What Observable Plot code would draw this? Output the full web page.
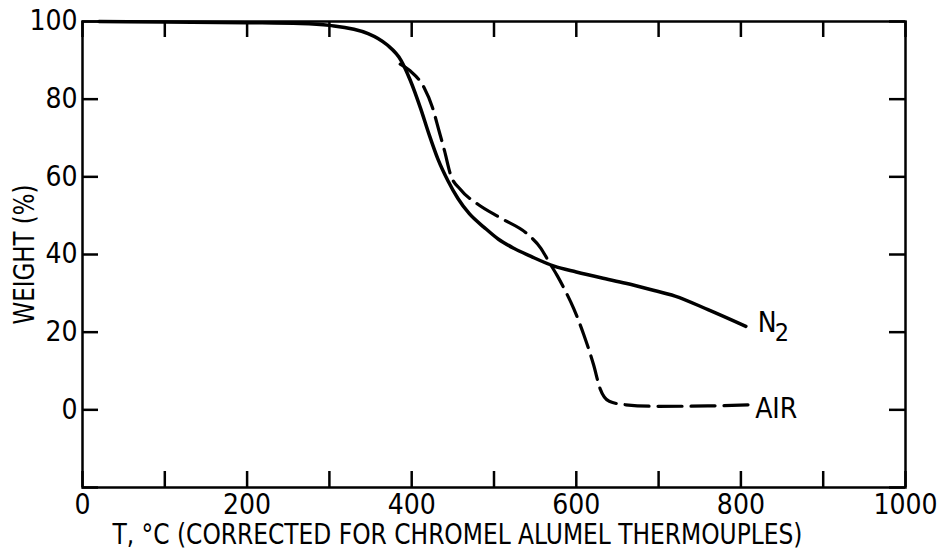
<!DOCTYPE html>
<html>
<head>
<meta charset="utf-8">
<script src="https://cdn.jsdelivr.net/npm/d3@7"></script>
<script src="https://cdn.jsdelivr.net/npm/@observablehq/plot@0.6"></script>
<style>
  html, body { margin: 0; padding: 0; background: #fff; }
  #chart { width: 938px; height: 552px; }
</style>
</head>
<body>
<div id="chart"></div>
<script>
// ---- data ----
const n2Temp   = [20, 100, 200, 265, 300, 347, 370, 387, 398, 411, 421, 432, 444, 456, 470, 488, 505, 524, 545, 573, 600, 630, 660, 690, 720, 760, 806];
const n2Weight = [100, 99.9, 99.7, 99.5, 99, 96.9, 94, 90, 85, 77.5, 71, 64.5, 59, 54.5, 50.5, 47, 44, 41.6, 39.5, 37, 35.5, 34, 32.6, 31, 29.3, 25.8, 21.5];

const airTemp   = [386, 398, 415, 425, 433, 440, 447, 459, 480, 508, 541, 557, 567, 577, 587, 597, 609, 621, 629, 640, 660, 700, 760, 810];
const airWeight = [89, 87.3, 83, 78, 72, 66.6, 60.7, 56.8, 53, 49.4, 45.2, 41.6, 38, 34.5, 30.5, 26, 19.4, 11.6, 5.4, 2.2, 1.3, 0.9, 1, 1.3];

const xMinorTicks = [0, 100, 200, 300, 400, 500, 600, 700, 800, 900, 1000];
const xTickLabels = [0, 200, 400, 600, 800, 1000];
const yMinorTicks = [-20, 0, 20, 40, 60, 80, 100];
const yTickLabels = [0, 20, 40, 60, 80, 100];

const xTitle = "T, °C (CORRECTED FOR CHROMEL ALUMEL THERMOUPLES)";
const yTitle = "WEIGHT (%)";
const n2Label  = [{name: "N", sub: "2", t: 806, w: 21.5}];
const airLabel = [{name: "AIR", t: 810, w: 1.3}];

const n2 = n2Temp.map((t, i) => ({t, w: n2Weight[i]}));
const air = airTemp.map((t, i) => ({t, w: airWeight[i]}));

const W = 938, H = 552;
const mL = 82, mR = 33, mT = 21, mB = 65;
const plotW = W - mL - mR, plotH = H - mT - mB;
const tick = 16;
const font = "'DejaVu Sans Condensed', 'DejaVu Sans', sans-serif";

const chart = Plot.plot({
  width: W, height: H,
  marginLeft: mL, marginRight: mR, marginTop: mT, marginBottom: mB,
  x: {domain: [0, 1000]},
  y: {domain: [-20, 100]},
  style: {fontFamily: font, background: "#fff", color: "#000"},
  marks: [
    // inward ticks on all four sides
    Plot.tickX(xMinorTicks, {x: d => d, insetTop: plotH - tick, strokeWidth: 2.5}),
    Plot.tickX(xMinorTicks, {x: d => d, insetBottom: plotH - tick, strokeWidth: 2.5}),
    Plot.tickY(yMinorTicks, {y: d => d, insetRight: plotW - tick, strokeWidth: 2.5}),
    Plot.tickY(yMinorTicks, {y: d => d, insetLeft: plotW - tick, strokeWidth: 2.5}),
    // tick labels
    Plot.axisX(xTickLabels, {anchor: "bottom", tickSize: 0, tickPadding: 7, fontSize: 28, label: null, tickFormat: d => String(d)}),
    Plot.axisY(yTickLabels, {anchor: "left", tickSize: 0, tickPadding: 5, fontSize: 28, label: null, tickFormat: d => String(d)}),
    Plot.frame({stroke: "#000", strokeWidth: 2.5}),
    // curves
    Plot.line(n2, {x: "t", y: "w", curve: "monotone-x", stroke: "#000", strokeWidth: 3.5}),
    Plot.line(air, {x: "t", y: "w", curve: "monotone-x", stroke: "#000", strokeWidth: 3.2, strokeDasharray: "24,9"}),
    // series labels
    Plot.text(n2Label, {x: "t", y: "w", text: "name", textAnchor: "start", dx: 12, dy: -3, fontSize: 28}),
    Plot.text(n2Label, {x: "t", y: "w", text: "sub", textAnchor: "start", dx: 29, dy: 7, fontSize: 25}),
    Plot.text(airLabel, {x: "t", y: "w", text: "name", textAnchor: "start", dx: 6, dy: 4, fontSize: 28}),
    // axis titles
    Plot.text([xTitle], {frameAnchor: "bottom-left", text: d => d, textAnchor: "start", lineAnchor: "middle", dx: 30, dy: 48, fontSize: 28}),
    Plot.text([yTitle], {frameAnchor: "left", text: d => d, rotate: -90, textAnchor: "middle", dx: -58, dy: 0, fontSize: 29})
  ]
});
document.getElementById("chart").appendChild(chart);

// fit the lettering widths of the two axis titles to the reference
chart.querySelectorAll("text").forEach(el => {
  if (el.textContent === xTitle) { el.setAttribute("textLength", 690); el.setAttribute("lengthAdjust", "spacingAndGlyphs"); }
  if (el.textContent === yTitle) { el.setAttribute("textLength", 140); el.setAttribute("lengthAdjust", "spacingAndGlyphs"); }
});
</script>
</body>
</html>
